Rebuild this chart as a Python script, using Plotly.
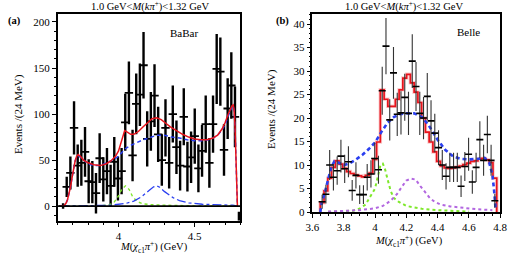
import plotly.graph_objects as go

# ---------------- BaBar (a) ----------------
babar_x = [3.636, 3.660, 3.684, 3.708, 3.732, 3.756, 3.780, 3.804, 3.828, 3.852, 3.876, 3.900,
           3.924, 3.948, 3.972, 3.996, 4.020, 4.044, 4.068, 4.092, 4.116, 4.140, 4.164, 4.188,
           4.212, 4.236, 4.260, 4.284, 4.308, 4.332, 4.356, 4.380, 4.404, 4.428, 4.452, 4.476,
           4.500, 4.524, 4.548, 4.572, 4.596, 4.620, 4.644, 4.668, 4.692, 4.716, 4.740, 4.764]
babar_y = [0, 21, 36, 85, 44, 47, 59, 27, 26, 14, 52, 29,
           38, 22, 48, 30, 38, 91, 123, 55, 111, 121, 153, 73,
           92, 120, 78, 50, 85, 47, 100, 64, 44, 97, 43, 53,
           76, 41, 60, 89, 47, 89, 149, 146, 61, 106, 131, 97]
babar_err = [3, 11, 18, 29, 23, 25, 27, 24, 23, 22, 27, 24,
             25, 23, 27, 24, 25, 31, 34, 28, 33, 34, 36, 30,
             32, 34, 30, 28, 31, 28, 31, 29, 27, 31, 27, 28,
             30, 26, 28, 31, 27, 31, 38, 37, 28, 33, 36, 33]

babar_tot_x = [3.62, 3.635, 3.645, 3.655, 3.665, 3.675, 3.685, 3.695, 3.705, 3.715, 3.725, 3.735,
               3.75, 3.77, 3.80, 3.84, 3.88, 3.92, 3.95, 3.98,
               4.00, 4.02, 4.04, 4.06, 4.08, 4.10, 4.13, 4.16, 4.19, 4.22, 4.25, 4.28, 4.31, 4.34,
               4.38, 4.42, 4.46, 4.50, 4.54, 4.58, 4.62, 4.65, 4.68, 4.70, 4.72, 4.735, 4.745,
               4.752, 4.758, 4.764, 4.770, 4.776, 4.78]
babar_tot_y = [0, 0, 1, 3, 7, 13, 21, 31, 41, 49, 54, 56,
               54, 50, 47, 45, 44, 46, 49, 54,
               60, 70, 82, 80, 78, 78, 81, 86, 91, 95, 96, 94, 90, 86,
               82, 78, 75, 73, 72, 72, 74, 77, 84, 91, 100, 106, 109,
               110, 105, 88, 55, 15, 0]
babar_bkg_x = [3.62, 3.635, 3.645, 3.655, 3.665, 3.675, 3.685, 3.695, 3.705, 3.715, 3.725, 3.735,
               3.75, 3.77, 3.80, 3.84, 3.88, 3.92, 3.96,
               4.00, 4.04, 4.08, 4.12, 4.16, 4.20, 4.25, 4.30, 4.35, 4.40, 4.45, 4.50, 4.56,
               4.61, 4.65, 4.68, 4.70, 4.72, 4.735, 4.745, 4.752, 4.758, 4.764, 4.770, 4.776, 4.78]
babar_bkg_y = [0, 0, 1, 3, 7, 13, 21, 31, 41, 49, 53, 55,
               53, 50, 46, 44, 44, 47, 50,
               54, 62, 66, 69, 72, 74, 77, 77, 75, 74, 72, 71, 71,
               73, 77, 83, 89, 98, 105, 108,
               109, 104, 87, 54, 15, 0]
babar_z1_x = [3.62, 3.80, 3.90, 3.94, 3.97, 4.00, 4.02, 4.045, 4.07, 4.09, 4.12, 4.16, 4.22, 4.30, 4.40, 4.50, 4.78]
babar_z1_y = [0, 0.2, 0.6, 1.5, 4, 11, 18, 22, 18, 11, 5, 2.5, 1.5, 1, 0.5, 0.3, 0]
babar_z2_x = [3.62, 3.65, 3.80, 3.95, 4.05, 4.10, 4.15, 4.20, 4.23, 4.25, 4.27, 4.30, 4.33, 4.36, 4.40,
              4.46, 4.55, 4.65, 4.75, 4.78]
babar_z2_y = [0, 0, 0.5, 1, 3, 5.5, 10, 17, 21, 22, 20.5, 16, 12, 9, 6, 3.5, 2, 1.5, 1, 0]

# ---------------- Belle (b) ----------------
belle_x = [3.662, 3.686, 3.710, 3.734, 3.758, 3.782, 3.806, 3.830, 3.854, 3.878, 3.902, 3.926,
           3.950, 3.974, 3.998, 4.022, 4.046, 4.070, 4.094, 4.118, 4.142, 4.166, 4.190, 4.214,
           4.238, 4.262, 4.286, 4.310, 4.334, 4.358, 4.382, 4.406, 4.430, 4.454, 4.478, 4.502,
           4.526, 4.550, 4.574, 4.598, 4.622, 4.646, 4.670, 4.694, 4.718, 4.742, 4.766]
belle_y = [2.2, 3.8, 10.0, 7.4, 8.8, 11.9, 9.2, 10.7, 4.6, 7.8, 3.7, 3.7,
           7.4, 8.1, 11.4, 9.0, 25.8, 35.3, 19.6, 29.6, 20.8, 21.1, 24.4, 21.0,
           32.1, 26.7, 21.0, 20.0, 24.6, 19.4, 16.8, 13.7, 10.0, 7.6, 9.5, 9.5,
           9.5, 5.5, 9.7, 12.3, 6.4, 9.5, 15.4, 11.0, 16.5, 11.0, 2.4]
belle_err = [1.5, 2.0, 3.2, 2.8, 3.0, 3.5, 3.0, 3.3, 2.2, 2.8, 2.0, 2.0,
             2.8, 2.9, 3.4, 3.0, 5.1, 6.0, 4.4, 5.5, 4.6, 4.6, 5.0, 4.6,
             5.7, 5.2, 4.6, 4.5, 5.0, 4.4, 4.1, 3.7, 3.2, 2.8, 3.1, 3.1,
             3.1, 2.3, 3.1, 3.5, 2.5, 3.1, 3.9, 3.3, 4.0, 3.3, 1.5]
belle_tot = [2.0, 4.5, 7.2, 9.5, 10.9, 10.2, 9.3, 8.6, 8.2, 7.9, 7.7, 7.5,
             7.8, 8.3, 11.2, 14.9, 26.0, 24.0, 22.5, 22.5, 24.0, 26.0, 28.5, 29.3,
             27.5, 25.5, 23.3, 20.0, 17.0, 14.9, 12.8, 10.8, 9.8, 9.4, 9.3, 9.4,
             9.6, 9.8, 10.1, 10.4, 10.8, 10.9, 11.3, 11.4, 11.1, 10.5, 7.2]
belle_bkg_x = [3.65, 3.66, 3.68, 3.70, 3.72, 3.74, 3.76, 3.80, 3.84, 3.88, 3.92, 3.96, 4.00,
               4.04, 4.08, 4.12, 4.16, 4.20, 4.25, 4.30, 4.34, 4.37, 4.40, 4.45, 4.50, 4.55,
               4.60, 4.65, 4.70, 4.73, 4.75, 4.76, 4.77]
belle_bkg_y = [0, 2, 4.3, 7, 9.5, 10.8, 10.6, 10, 10.4, 11.2, 12.2, 13.4, 14.8,
               17, 19, 20.2, 20.8, 21, 21, 20.2, 18.6, 17, 15.4, 13.2, 11.8, 11.3,
               11.2, 11.3, 11.5, 10.5, 8, 5, 1]
belle_z1_x = [3.70, 3.80, 3.86, 3.90, 3.94, 3.97, 4.00, 4.02, 4.035, 4.05, 4.065, 4.08, 4.10,
              4.12, 4.15, 4.20, 4.30, 4.40, 4.50, 4.60]
belle_z1_y = [0.05, 0.15, 0.3, 0.7, 1.6, 3.3, 5, 7.8, 10, 10.3, 9, 7, 4.5, 3, 2.2, 1.3, 0.7, 0.4, 0.2, 0.1]
belle_z2_x = [3.70, 3.80, 3.90, 4.00, 4.05, 4.10, 4.14, 4.17, 4.20, 4.23, 4.26, 4.29, 4.32,
              4.35, 4.38, 4.42, 4.48, 4.55, 4.65, 4.75]
belle_z2_y = [0.1, 0.2, 0.4, 0.8, 1.3, 2.4, 3.8, 5.3, 6.7, 7.1, 6.9, 5.5, 4.3, 3, 2.2, 1.6, 1.2, 0.9, 0.6, 0.4]

SERIF = "Liberation Serif"
RED = "#e8141c"
BLUE = "#2a3ff0"
GREEN = "#7ee82a"
VIOLET = "#b266e0"

fig = go.Figure()

# ----- panel (a)
fig.add_trace(go.Scatter(x=babar_x, y=babar_y, mode="markers",
                         marker=dict(symbol="line-ew-open", size=6, color="black",
                                     line=dict(width=1.8, color="black")),
                         error_y=dict(type="data", array=babar_err, width=0, thickness=2.4, color="black"),
                         xaxis="x", yaxis="y", showlegend=False))
fig.add_trace(go.Scatter(x=babar_z1_x, y=babar_z1_y, mode="lines", line=dict(color=GREEN, width=1.4, dash="dot"),
                         xaxis="x", yaxis="y", showlegend=False))
fig.add_trace(go.Scatter(x=babar_z2_x, y=babar_z2_y, mode="lines", line=dict(color=BLUE, width=1.3, dash="dashdot"),
                         xaxis="x", yaxis="y", showlegend=False))
fig.add_trace(go.Scatter(x=babar_bkg_x, y=babar_bkg_y, mode="lines", line=dict(color=BLUE, width=1.5, dash="4px,3px"),
                         xaxis="x", yaxis="y", showlegend=False))
fig.add_trace(go.Scatter(x=babar_tot_x, y=babar_tot_y, mode="lines", line=dict(color=RED, width=1.5),
                         xaxis="x", yaxis="y", showlegend=False))

# ----- panel (b)
half = 0.012
edges = [c - half for c in belle_x] + [belle_x[-1] + half]
step_x = [edges[0]] + edges + [edges[-1]]
step_y = [0] + belle_tot + [belle_tot[-1], 0]

fig.add_trace(go.Scatter(x=belle_z1_x, y=belle_z1_y, mode="lines", line=dict(color=GREEN, width=2, dash="dot"),
                         xaxis="x2", yaxis="y2", showlegend=False))
fig.add_trace(go.Scatter(x=belle_z2_x, y=belle_z2_y, mode="lines", line=dict(color=VIOLET, width=2, dash="dot"),
                         xaxis="x2", yaxis="y2", showlegend=False))
fig.add_trace(go.Scatter(x=step_x, y=step_y, mode="lines", line=dict(color="rgba(232,20,28,0.22)", width=3.5),
                         line_shape="hv", xaxis="x2", yaxis="y2", showlegend=False))
fig.add_trace(go.Scatter(x=step_x, y=step_y, mode="lines", line=dict(color=RED, width=1.7),
                         line_shape="hv", xaxis="x2", yaxis="y2", showlegend=False))
fig.add_trace(go.Scatter(x=belle_bkg_x, y=belle_bkg_y, mode="lines", line=dict(color=BLUE, width=2.6, dash="4px,3px"),
                         xaxis="x2", yaxis="y2", showlegend=False))
fig.add_trace(go.Scatter(x=belle_x, y=belle_y, mode="markers",
                         marker=dict(symbol="line-ew-open", size=5, color="black",
                                     line=dict(width=1.6, color="black")),
                         error_y=dict(type="data", array=belle_err, width=0, thickness=1.1, color="#333333"),
                         xaxis="x2", yaxis="y2", showlegend=False))

tickfont = dict(family=SERIF, size=11, color="black")
base = dict(showline=True, linecolor="black", linewidth=1.5, mirror=True, ticks="outside",
            ticklen=4, tickwidth=1, tickcolor="black", showgrid=False, zeroline=False,
            tickfont=tickfont, fixedrange=True, ticklabeloverflow="allow")

fig.update_layout(
    width=514, height=263, autosize=False,
    margin=dict(l=0, r=0, t=0, b=0),
    paper_bgcolor="white", plot_bgcolor="white",
    xaxis=dict(base, domain=[52/514, 240/514], range=[3.6, 4.8], dtick=0.5, tick0=0,
               minor=dict(dtick=0.1, ticks="outside", ticklen=2, tickcolor="black"), anchor="y"),
    yaxis=dict(base, domain=[1-226/263, 1-14/263], range=[-16, 209], dtick=50, tick0=0,
               minor=dict(dtick=10, ticks="outside", ticklen=2, tickcolor="black"), anchor="x"),
    xaxis2=dict(base, domain=[314/514, 507/514], range=[3.6, 4.8001], dtick=0.2, tick0=0,
                minor=dict(dtick=0.05, ticks="outside", ticklen=2, tickcolor="black"), anchor="y2"),
    yaxis2=dict(base, domain=[1-217/263, 1-14/263], range=[0, 42.2], dtick=5, tick0=0,
                minor=dict(dtick=1, ticks="outside", ticklen=2, tickcolor="black"), anchor="x2"),
    shapes=[
        dict(type="line", xref="x", yref="y", x0=3.6, x1=4.8, y0=0, y1=0,
             line=dict(color="black", width=1.6)),
        dict(type="rect", xref="x", yref="y", x0=4.782, x1=4.8, y0=-16, y1=-6,
             line=dict(width=0), fillcolor="black"),
    ],
)

title_txt = "1.0 GeV&lt;<i>M</i>(<i>kπ</i><sup>+</sup>)&lt;1.32 GeV"
xlab = "<i>M</i>(<i>χ</i><sub>c1</sub><i>π</i><sup>+</sup>) (GeV)"
ylab = "Events /(24 MeV)"
ann = []
def A(text, x, y, size=11, angle=0, bold=False):
    ann.append(dict(text=("<b>%s</b>" % text) if bold else text, x=x/514, y=1-y/263,
                    xref="paper", yref="paper", showarrow=False, textangle=angle,
                    xanchor="center", yanchor="middle",
                    font=dict(family=SERIF, size=size, color="black")))
A(title_txt, 147, 6, size=10.5)
A(title_txt, 408, 6, size=10.5)
A("(a)", 8, 21, size=10.5, bold=True)
A("(b)", 283, 21, size=10.5, bold=True)
A("BaBar", 182, 34, size=11)
A("Belle", 474, 33, size=11)
A(xlab, 151, 253, size=10.5)
A(xlab, 413, 247, size=10.5)
A(ylab, 12, 117, size=11, angle=-90)
A(ylab, 272, 112, size=11, angle=-90)
fig.update_layout(annotations=ann)

fig.write_html("out.html", config={"displayModeBar": False},
               post_script="document.body.style.margin='0px';document.body.style.padding='0px';")
